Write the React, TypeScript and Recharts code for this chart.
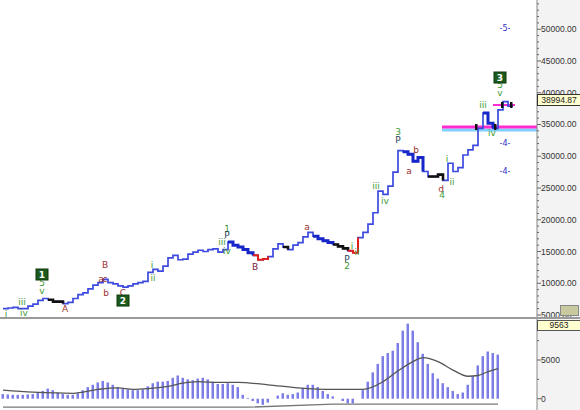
import React from "react";
import {
  ComposedChart,
  Line,
  Bar,
  Scatter,
  XAxis,
  YAxis,
  ReferenceLine,
} from "recharts";

// weekly closes, one value per bar
const price = [
  6000, 6100, 6200, 6000, 6000, 6400, 6700, 7300, 7600, 7400,
  7100, 7100, 6800, 7000, 7600, 8200, 8500, 9100, 9700, 10100,
  10600, 10100, 9900, 9600, 9400, 9600, 9900, 10100, 10300, 11700,
  12200, 11900, 12700, 14000, 14400, 13700, 13800, 14600, 14900, 15200,
  15000, 15300, 15400, 14900, 15300, 16500, 16000, 15700, 15300, 14800,
  14400, 13700, 13800, 14200, 15400, 16200, 15700, 15300, 16000, 16400,
  17300, 18000, 17400, 17000, 16700, 16400, 16100, 15800, 15500, 15100,
  14800, 17200, 18000, 19300, 21100, 24500, 24000, 25300, 27500, 30900,
  30700, 30300, 29200, 29800, 27600, 26800, 26800, 27100, 26200, 28900,
  27600, 28200, 30200, 31000, 31700, 34400, 36800, 35200, 34400, 37300,
  38600, 37900, 37900,
];

// coloured stretches of the price line (start, end index)
const thickRuns = [[45, 50], [62, 66], [80, 84], [96, 98]];
const blackRuns = [[9, 12], [56, 57], [66, 69], [85, 88]];
const redRuns = [[50, 53], [69, 71]];

// oscillator histogram
const hist = [
  600, 550, 500, 500, 500, 550, 600, 800, 1000, 1300,
  1100, 800, 600, 500, 500, 700, 1100, 1500, 1800, 2100,
  2300, 2100, 1800, 1500, 1300, 1200, 1100, 1100, 1200, 1600,
  2000, 2200, 2200, 2300, 2700, 3000, 2700, 2500, 2400, 2600,
  2700, 2500, 2200, 1900, 1900, 2000, 1800, 1500, 500, 100,
  -300, -600, -800, -500, 0, 400, 700, 500, 600, 800,
  1400, 1800, 1800, 1500, 1000, 600, 300, 0, -300, -600,
  -600, 0, 1100, 2200, 3400, 4500, 5500, 5900, 6200, 7200,
  8800, 9700, 8800, 7300, 5800, 4500, 3300, 2600, 2000, 1500,
  1000, 600, 800, 1800, 2900, 4300, 5500, 6100, 5900, 5700,
];
const sigIdx = [0, 6, 14, 19, 23, 26, 29, 33, 36, 39, 43, 47, 53, 59, 66, 72, 76, 79, 82, 84, 87, 90, 93, 95, 97, 99];
const sigVal = [1100, 850, 700, 1200, 1400, 1200, 1300, 1600, 2000, 2200, 2100, 2100, 1800, 1400, 1200, 1200, 2200, 3600, 4800, 5300, 4800, 3700, 2900, 3000, 3500, 3900];
const slowIdx = [0, 49, 66, 99];
const slowVal = [-1100, -1100, -700, -700];

const GREEN = "#3f9a35";
const RED = "#9a2f2f";
const DARK = "#1f3c5a";
const BLUE = "#3030c8";

// wave counts: bar index, price level, text
const waveLabels = [
  { i: 0.6, v: 5300, t: "i", c: GREEN },
  { i: 3.8, v: 7200, t: "iii", c: GREEN },
  { i: 4.2, v: 5470, t: "iv", c: GREEN },
  { i: 7.8, v: 8780, t: "v", c: GREEN },
  { i: 7.8, v: 10040, t: "5", c: GREEN },
  { i: 12.4, v: 6100, t: "A", c: RED },
  { i: 20.4, v: 13030, t: "B", c: RED },
  { i: 19.6, v: 10800, t: "a", c: RED },
  { i: 20.4, v: 10800, t: "c", c: RED },
  { i: 20.6, v: 8620, t: "b", c: RED },
  { i: 24, v: 8620, t: "C", c: RED },
  { i: 29.8, v: 13030, t: "i", c: GREEN },
  { i: 30, v: 10830, t: "ii", c: GREEN },
  { i: 44.8, v: 18550, t: "1", c: GREEN },
  { i: 44.8, v: 17600, t: "P", c: DARK },
  { i: 43.8, v: 16500, t: "iii", c: GREEN },
  { i: 44.8, v: 15100, t: "iv", c: GREEN },
  { i: 50.4, v: 12560, t: "B", c: "#7a1a3a" },
  { i: 60.8, v: 18860, t: "a", c: RED },
  { i: 69.8, v: 15900, t: "i", c: GREEN },
  { i: 70.8, v: 15000, t: "ii", c: GREEN },
  { i: 68.8, v: 13820, t: "P", c: DARK },
  { i: 68.8, v: 12720, t: "2", c: GREEN },
  { i: 74.6, v: 25320, t: "iii", c: GREEN },
  { i: 76.4, v: 23000, t: "iv", c: GREEN },
  { i: 79, v: 33820, t: "3", c: GREEN },
  { i: 79, v: 32560, t: "P", c: DARK },
  { i: 81.2, v: 27680, t: "a", c: RED },
  { i: 82.6, v: 30990, t: "b", c: RED },
  { i: 87.6, v: 25000, t: "d", c: RED },
  { i: 87.8, v: 23900, t: "4", c: GREEN },
  { i: 88.8, v: 29650, t: "i", c: GREEN },
  { i: 89.8, v: 25950, t: "ii", c: GREEN },
  { i: 96, v: 38100, t: "iii", c: GREEN },
  { i: 97.8, v: 33670, t: "iv", c: GREEN },
  { i: 99.4, v: 39970, t: "v", c: GREEN },
  { i: 99.4, v: 41225, t: "5", c: GREEN },
];
const waveBoxes = [
  { i: 7.8, v: 11300, t: "1" },
  { i: 24, v: 7200, t: "2" },
  { i: 99.4, v: 42320, t: "3" },
];
const targets = [
  { i: 100.4, v: 50200, t: "-5-" },
  { i: 100.4, v: 32090, t: "-4-" },
  { i: 100.4, v: 27680, t: "-4-" },
];
const stops = [
  { i: 94.6, v: 34610 },
  { i: 98.4, v: 34610 },
  { i: 99.8, v: 38075 },
  { i: 101.6, v: 38075 },
];

const inRuns = (runs: number[][], i: number) =>
  runs.some(([a, b]) => i >= a && i <= b);

const priceData = price.map((p, i) => ({
  i,
  p,
  thick: inRuns(thickRuns, i) ? p : null,
  blk: inRuns(blackRuns, i) ? p : null,
  red: inRuns(redRuns, i) ? p : null,
}));

const oscData = hist.map((h, i) => {
  const si = sigIdx.indexOf(i);
  const li = slowIdx.indexOf(i);
  return {
    i,
    h,
    s: si >= 0 ? sigVal[si] : null,
    l: li >= 0 ? slowVal[li] : null,
  };
});

const X_DOMAIN = [-0.6, 106.8];
const AXIS_FONT = "'Liberation Sans', Arial, sans-serif";
const LABEL_FONT = "'DejaVu Sans', Verdana, sans-serif";

const priceTicks: number[] = [];
for (let v = 5000; v <= 54000; v += 1000) priceTicks.push(v);

const PriceTick = (props: any) => {
  const { x, y, payload } = props;
  const major = payload.value % 5000 === 0;
  return (
    <g>
      <line x1={x} y1={y} x2={x + (major ? 4 : 2)} y2={y} stroke="#666" />
      {major && (
        <text x={x + 4} y={y + 3} fontSize={8.5} fill="#333" fontFamily={AXIS_FONT}>
          {payload.value.toFixed(2)}
        </text>
      )}
    </g>
  );
};

const OscTick = (props: any) => {
  const { x, y, payload } = props;
  const major = payload.value === 0 || payload.value === 5000;
  return (
    <g>
      <line x1={x} y1={y} x2={x + (major ? 4 : 2)} y2={y} stroke="#666" />
      {major && (
        <text x={x + 4} y={y + 3} fontSize={8.5} fill="#333" fontFamily={AXIS_FONT}>
          {payload.value}
        </text>
      )}
    </g>
  );
};

const WaveText = (props: any) => {
  const { cx, cy, payload } = props;
  return (
    <text x={cx} y={cy + 3.5} textAnchor="middle" fill={payload.c} fontSize={9} fontFamily={LABEL_FONT}>
      {payload.t}
    </text>
  );
};

const WaveBox = (props: any) => {
  const { cx, cy, payload } = props;
  return (
    <g>
      <rect x={cx - 6} y={cy - 6} width={12} height={11} fill="#1d5a1d" stroke="#0c380c" />
      <text x={cx} y={cy + 3} textAnchor="middle" fill="#fff" fontSize={9} fontWeight="bold" fontFamily={LABEL_FONT}>
        {payload.t}
      </text>
    </g>
  );
};

const TargetText = (props: any) => {
  const { cx, cy, payload } = props;
  return (
    <text x={cx} y={cy + 3} textAnchor="middle" fill={BLUE} fontSize={8} fontFamily={LABEL_FONT}>
      {payload.t}
    </text>
  );
};

const StopMark = (props: any) => {
  const { cx, cy } = props;
  return <rect x={cx - 1} y={cy - 3} width={2.5} height={6} fill="#111" />;
};

export default function App() {
  return (
    <div style={{ position: "absolute", left: 0, top: 0, width: 580, height: 410, background: "#fff", overflow: "hidden" }}>
      <div style={{ position: "absolute", left: 537, top: 0, width: 43, height: 410, background: "#f3f3f3" }} />
      <div style={{ position: "absolute", left: 0, top: 0 }}>
        <ComposedChart width={580} height={318} data={priceData} margin={{ top: 0, right: 0, left: 0, bottom: 0 }}>
          <XAxis type="number" dataKey="i" domain={X_DOMAIN} hide allowDataOverflow />
          <YAxis
            orientation="right"
            width={43}
            domain={[4528, 54606]}
            allowDataOverflow
            ticks={priceTicks}
            interval={0}
            tick={<PriceTick />}
            tickSize={0}
            tickMargin={0}
            tickLine={false}
            axisLine={{ stroke: "#888" }}
          />
          <ReferenceLine segment={[{ x: 87.8, y: 34140 }, { x: 106.8, y: 34140 }]} stroke="#7fd0ff" strokeWidth={3} />
          <ReferenceLine segment={[{ x: 87.8, y: 34610 }, { x: 106.8, y: 34610 }]} stroke="#ff2ccf" strokeWidth={3} />
          <ReferenceLine segment={[{ x: 98, y: 38075 }, { x: 102.4, y: 38075 }]} stroke="#ff2ccf" strokeWidth={2} />
          <Line type="stepAfter" dataKey="p" stroke="#3d4ade" strokeWidth={1.7} dot={false} activeDot={false} isAnimationActive={false} />
          <Line type="stepAfter" dataKey="thick" stroke="#1626c8" strokeWidth={3} dot={false} activeDot={false} isAnimationActive={false} />
          <Line type="stepAfter" dataKey="blk" stroke="#111" strokeWidth={2.6} dot={false} activeDot={false} isAnimationActive={false} />
          <Line type="stepAfter" dataKey="red" stroke="#e02020" strokeWidth={2} dot={false} activeDot={false} isAnimationActive={false} />
          <Scatter data={stops} dataKey="v" shape={<StopMark />} isAnimationActive={false} />
          <Scatter data={waveLabels} dataKey="v" shape={<WaveText />} isAnimationActive={false} />
          <Scatter data={waveBoxes} dataKey="v" shape={<WaveBox />} isAnimationActive={false} />
          <Scatter data={targets} dataKey="v" shape={<TargetText />} isAnimationActive={false} />
        </ComposedChart>
      </div>
      <div style={{ position: "absolute", left: 0, top: 317, width: 580, height: 2, background: "#9a9a9a" }} />
      <div style={{ position: "absolute", left: 0, top: 319 }}>
        <ComposedChart width={580} height={91} data={oscData} margin={{ top: 0, right: 0, left: 0, bottom: 0 }}>
          <XAxis type="number" dataKey="i" domain={X_DOMAIN} hide allowDataOverflow />
          <YAxis
            orientation="right"
            width={43}
            domain={[-1460, 10300]}
            allowDataOverflow
            ticks={[0, 2500, 5000, 7500, 10000]}
            interval={0}
            tick={<OscTick />}
            tickSize={0}
            tickMargin={0}
            tickLine={false}
            axisLine={{ stroke: "#888" }}
          />
          <Bar dataKey="h" fill="#7d7de6" barSize={2.5} isAnimationActive={false} />
          <Line type="monotone" dataKey="s" stroke="#555" strokeWidth={1.3} dot={false} activeDot={false} connectNulls isAnimationActive={false} />
          <Line type="linear" dataKey="l" stroke="#777" strokeWidth={1.3} dot={false} activeDot={false} connectNulls isAnimationActive={false} />
        </ComposedChart>
      </div>
      <div
        style={{
          position: "absolute", left: 537, top: 94, width: 42, height: 10,
          background: "#ffffd0", border: "1px solid #333", fontFamily: AXIS_FONT,
          fontSize: 8.5, lineHeight: "10px", textAlign: "center", color: "#222",
        }}
      >
        38994.87
      </div>
      <div
        style={{
          position: "absolute", left: 537, top: 320, width: 42, height: 9,
          background: "#ffffd0", border: "1px solid #555", fontFamily: AXIS_FONT,
          fontSize: 8.5, lineHeight: "9px", textAlign: "center", color: "#222",
        }}
      >
        9563
      </div>
      <div style={{ position: "absolute", left: 560, top: 305, width: 17, height: 9, background: "#c9c9a0", border: "1px solid #888" }} />
    </div>
  );
}
